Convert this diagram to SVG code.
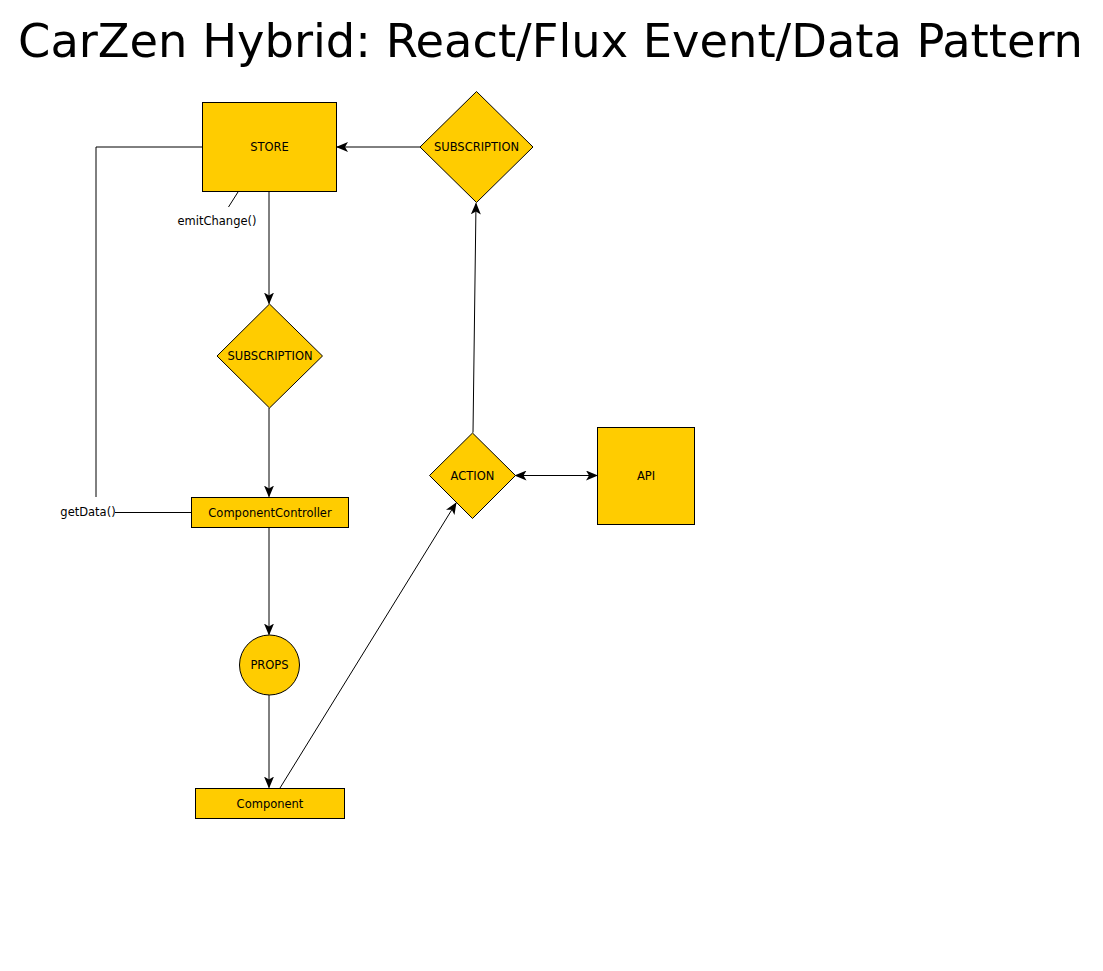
<svg xmlns="http://www.w3.org/2000/svg" width="1103" height="971" viewBox="0 0 1103 971">
<style>
.n{fill:#FFCC00;stroke:#000;stroke-width:1}
.l{font-family:"DejaVu Sans","Liberation Sans",sans-serif;font-size:11.5px;fill:#000;text-anchor:middle}
.c{fill:none;stroke:#000;stroke-width:1}
</style>
<defs>
<marker id="ah" viewBox="0 0 12 10" refX="11" refY="5" markerWidth="12" markerHeight="10" markerUnits="userSpaceOnUse" orient="auto-start-reverse">
<path d="M0,0 L12,5 L0,10 L3,5 Z" fill="#000"/>
</marker>
</defs>
<rect width="1103" height="971" fill="#fff"/>
<text x="550.5" y="57" font-family="DejaVu Sans Condensed,DejaVu Sans,sans-serif" font-size="46" text-anchor="middle" textLength="1065" lengthAdjust="spacingAndGlyphs">CarZen Hybrid: React/Flux Event/Data Pattern</text>
<g id="connectors">
<line class="c" x1="420" y1="147" x2="337" y2="147" marker-end="url(#ah)"/>
<polyline class="c" points="202,147 96,147 96,497"/>
<line class="c" x1="115" y1="512.5" x2="191" y2="512.5"/>
<line class="c" x1="238" y1="192" x2="228.5" y2="207"/>
<line class="c" x1="269" y1="191" x2="269" y2="303.5" marker-end="url(#ah)"/>
<line class="c" x1="269" y1="408" x2="269" y2="496.5" marker-end="url(#ah)"/>
<line class="c" x1="269" y1="527" x2="269" y2="634.5" marker-end="url(#ah)"/>
<line class="c" x1="269" y1="695" x2="269" y2="787.5" marker-end="url(#ah)"/>
<line class="c" x1="280" y1="788" x2="456" y2="503" marker-end="url(#ah)"/>
<line class="c" x1="473" y1="432.5" x2="476" y2="203.5" marker-end="url(#ah)"/>
<line class="c" x1="515.5" y1="475.5" x2="597" y2="475.5" marker-start="url(#ah)" marker-end="url(#ah)"/>
<text class="l" x="217" y="225">emitChange()</text>
<text class="l" x="88" y="516">getData()</text>
</g>
<g id="store"><rect class="n" x="202.5" y="102.5" width="134" height="89"/><text class="l" x="269.5" y="151">STORE</text></g>
<g id="subscription-top"><polygon class="n" points="476.5,91.5 533,147 476.5,202.5 420,147"/><text class="l" x="476.5" y="151">SUBSCRIPTION</text></g>
<g id="subscription-mid"><polygon class="n" points="269.5,304 322.5,356 269.5,408 217,356"/><text class="l" x="270" y="360">SUBSCRIPTION</text></g>
<g id="component-controller"><rect class="n" x="191.5" y="497.5" width="157" height="30"/><text class="l" x="270" y="516.5">ComponentController</text></g>
<g id="props"><circle class="n" cx="269.5" cy="665" r="30"/><text class="l" x="269.5" y="669">PROPS</text></g>
<g id="component"><rect class="n" x="195.5" y="788.5" width="149" height="30"/><text class="l" x="270" y="807.5">Component</text></g>
<g id="action"><polygon class="n" points="472.5,433 515.5,475.5 472.5,518.5 429.5,475.5"/><text class="l" x="472.5" y="479.5">ACTION</text></g>
<g id="api"><rect class="n" x="597.5" y="427.5" width="97" height="97"/><text class="l" x="646" y="479.5">API</text></g>
</svg>
